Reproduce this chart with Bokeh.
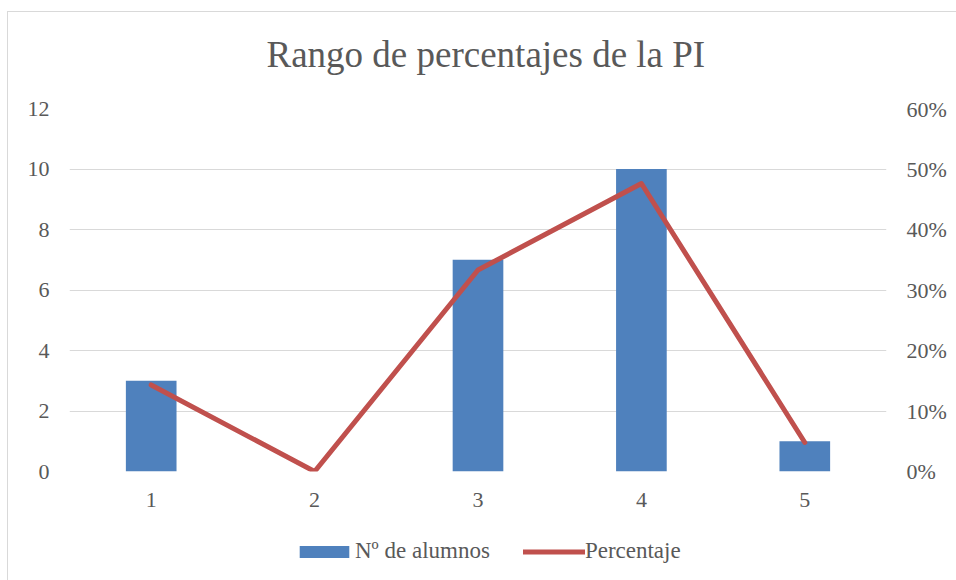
from bokeh.plotting import figure
from bokeh.layouts import column
from bokeh.models import (Range1d, LinearAxis, FixedTicker, NumeralTickFormatter,
                          Legend, LegendItem, ColumnDataSource)
from bokeh.embed import file_html
from bokeh.resources import INLINE

categories = [1, 2, 3, 4, 5]
alumnos = [3, 0, 7, 10, 1]
porcentaje = [0.143, 0.0, 0.333, 0.476, 0.048]
left_ticks = [0, 2, 4, 6, 8, 10, 12]
right_ticks = [0.0, 0.1, 0.2, 0.3, 0.4, 0.5, 0.6]
title_text = "Rango de percentajes de la PI"
bar_label = "Nº de alumnos"
line_label = "Percentaje"

FONT = "Liberation Serif"
TXT = "#595959"
GRID = "#d9d9d9"
BAR_COLOR = "#4F81BD"
LINE_COLOR = "#C0504D"

src = ColumnDataSource(dict(x=categories, n=alumnos, pct=porcentaje))


def blank(fig):
    fig.axis.visible = False
    fig.grid.visible = False
    fig.outline_line_color = None
    fig.background_fill_color = "white"
    fig.border_fill_color = "white"


W = 948

# ---- title strip ----
tf = figure(width=W, height=84, output_backend="svg", toolbar_location=None,
            x_range=Range1d(0, 1), y_range=Range1d(0, 1),
            min_border_left=61, min_border_right=70, min_border_top=0,
            min_border_bottom=0)
blank(tf)
tf.title.text = title_text
tf.title.text_font = FONT
tf.title.text_font_size = "37px"
tf.title.text_font_style = "normal"
tf.title.text_color = TXT
tf.title.align = "left"
tf.title.offset = 197
tf.title.standoff = 39

# ---- main chart ----
p = figure(width=W, height=424, output_backend="svg", toolbar_location=None,
           x_range=Range1d(0.5, 5.5), y_range=Range1d(0, 12),
           min_border_left=61, min_border_right=70, min_border_top=12,
           min_border_bottom=49)
p.outline_line_color = None
p.background_fill_color = "white"
p.border_fill_color = "white"
p.extra_y_ranges = {"pct": Range1d(0, 0.6)}

p.vbar(x="x", top="n", width=0.31, source=src, fill_color=BAR_COLOR, line_color=None)
p.line(x="x", y="pct", source=src, y_range_name="pct", line_color=LINE_COLOR,
       line_width=5, line_cap="round", line_join="round")

p.xgrid.grid_line_color = None
p.ygrid.grid_line_color = GRID
p.ygrid.grid_line_width = 1
p.yaxis.ticker = FixedTicker(ticks=left_ticks)
p.xaxis.ticker = FixedTicker(ticks=categories)

right = LinearAxis(y_range_name="pct", ticker=FixedTicker(ticks=right_ticks),
                   formatter=NumeralTickFormatter(format="0%"))
p.add_layout(right, "right")

for ax in p.axis:
    ax.axis_line_color = None
    ax.major_tick_line_color = None
    ax.minor_tick_line_color = None
    ax.major_tick_out = 0
    ax.major_tick_in = 0
    ax.major_label_text_font = FONT
    ax.major_label_text_font_size = "22px"
    ax.major_label_text_color = TXT
    ax.major_label_standoff = 20
p.xaxis.major_label_standoff = 21

# ---- legend strip (hidden renderers of the same series, used as legend keys) ----
lg = figure(width=W, height=60, output_backend="svg", toolbar_location=None,
            x_range=Range1d(0.5, 5.5), y_range=Range1d(-2, -1),
            min_border_left=61, min_border_right=70, min_border_top=0,
            min_border_bottom=0)
blank(lg)
lg.extra_y_ranges = {"pct": Range1d(-2, -1)}
key_bar = lg.vbar(x="x", top="n", width=0.31, source=src, fill_color=BAR_COLOR,
                  line_color=None, visible=False)
key_line = lg.line(x="x", y="pct", source=src, y_range_name="pct",
                   line_color=LINE_COLOR, line_width=5, line_cap="round",
                   visible=False)

legend = Legend(items=[LegendItem(label=bar_label, renderers=[key_bar]),
                       LegendItem(label=line_label, renderers=[key_line])],
                orientation="horizontal", location=(224, 16),
                glyph_width=62, glyph_height=15, label_standoff=0, spacing=33,
                padding=0, margin=0, border_line_color=None,
                background_fill_alpha=0, click_policy="none",
                label_text_font=FONT, label_text_font_size="23px",
                label_text_color=TXT)
lg.add_layout(legend, "center")

layout = column(tf, p, lg, spacing=0)
layout.styles = {"border-left": f"1px solid {GRID}", "border-top": f"1px solid {GRID}",
                 "margin-left": "7px", "margin-top": "11px"}

open("out.html", "w").write(file_html(layout, INLINE))
